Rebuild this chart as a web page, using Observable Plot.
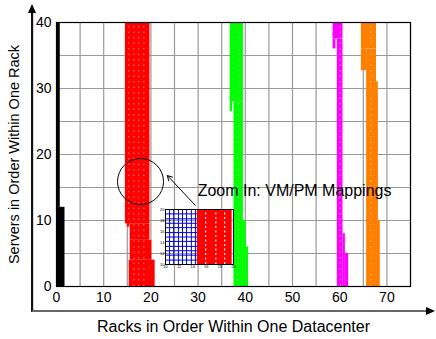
<!DOCTYPE html>
<html>
<head>
<meta charset="utf-8">
<script src="https://cdn.jsdelivr.net/npm/d3@7"></script>
<script src="https://cdn.jsdelivr.net/npm/@observablehq/plot@0.6"></script>
<style>
  html, body { margin: 0; padding: 0; background: #fff; }
  #wrap { position: relative; width: 436px; height: 339px; font-family: "Liberation Sans", Arial, sans-serif; }
  #inset { position: absolute; left: 157px; top: 205px; }
  .deco { position: absolute; pointer-events: none; z-index: 10; box-sizing: border-box; }
</style>
</head>
<body>
<div id="wrap"><div id="main"></div><div id="inset"></div></div>
<script>
// ---- axes / ticks ----
const xTicks = [0, 10, 20, 30, 40, 50, 60, 70];
const yTicks = [0, 10, 20, 30, 40];
const gridX = [5, 10, 15, 20, 25, 30, 35, 40, 45, 50, 55, 60, 65, 70, 75];
const gridY = [5, 10, 15, 20, 25, 30, 35, 40];
const xLabel = "Racks in Order Within One Datacenter";
const yLabel = "Servers in Order Within One Rack";

// ---- VM/PM mapping bands: colour, rack range, server range ----
const bandColor = ["black","black",
  "red","red","red","red","red",
  "#00ff00","#00ff00","#00ff00","#00ff00","#00ff00",
  "magenta","magenta","magenta","magenta","magenta",
  "#ff8000","#ff8000","#ff8000","#ff8000","#ff8000"];
const bandX1 = [0, 0,
  14.6, 15.6, 15.6, 15.4, 15.0,
  36.8, 36.8, 37.6, 39.6, 40.2,
  58.6, 58.6, 59.5, 60.7, 61.2,
  64.6, 64.6, 65.7, 67.8, 67.8];
const bandX2 = [0.8, 1.8,
  19.8, 19.8, 20.2, 20.9, 15.5,
  39.6, 37.3, 39.6, 40.2, 40.7,
  60.7, 59.2, 60.7, 61.2, 61.9,
  67.8, 65.7, 67.8, 68.2, 68.6];
const bandY1 = [12, 0,
  9.5, 7, 4, 0, 9,
  28, 26.5, 0, 0, 0,
  37.5, 36, 0, 0, 0,
  36, 32.7, 0, 10, 0];
const bandY2 = [40, 12,
  40, 9.5, 7, 4, 9.7,
  40, 28, 28, 10, 6,
  40, 37.5, 37.5, 8, 5,
  40, 36, 36, 31, 10];

// white speckle columns inside the bands
const speckX  = [15.3, 16.4, 17.4, 18.5, 38.5, 60.1, 66.6];
const speckY1 = [10, 0, 0, 0, 0, 0, 0];

// ---- annotation ----
const circleX = [17.8], circleY = [15.9];
const noteText = ["Zoom In: VM/PM Mappings"];
const noteX = [29.9], noteY = [14.5];
const arrowFrom = [29.4, 12.3], arrowTo = [23.5, 16.8];

// ---- outer axis frame (in axis units) ----
const frameLeftX = -5.1, frameBottomY = -3.8, frameTopY = 42.8, frameRightX = 80.4;

// ---- inset (zoomed view) ----
const insetTicks = [10, 12, 14, 16, 18, 20];
const insetGridX = [10, 10.6, 11.2, 11.9, 12.5, 13.1, 13.8, 14.4, 15];
const insetGridY = [10, 10.8, 11.7, 12.5, 13.3, 14.2, 15, 15.8, 16.7, 17.5, 18.3, 19.2, 20];
const insetRed = [14.7, 19.8];
const insetSpeck = [15.9, 17.4, 18.7];

const bands = bandColor.map((c, i) => ({c, x1: bandX1[i], x2: bandX2[i], y1: bandY1[i], y2: bandY2[i]}));

const font = "Liberation Sans, Arial, sans-serif";

const main = Plot.plot({
  width: 436, height: 339,
  marginTop: 22, marginBottom: 53, marginLeft: 56, marginRight: 26,
  x: {domain: [0, 75]},
  y: {domain: [0, 40]},
  color: {type: "identity"},
  style: {fontFamily: font, fontSize: "14px", background: "white", overflow: "visible", color: "black"},
  marks: [
    Plot.ruleX(gridX, {stroke: "#999", strokeWidth: 1.2, strokeOpacity: 1}),
    Plot.ruleY(gridY, {stroke: "#999", strokeWidth: 1.2, strokeOpacity: 1}),
    Plot.rect(bands, {x1: "x1", x2: "x2", y1: "y1", y2: "y2", fill: "c", inset: 0}),
    Plot.ruleX(speckX, {y1: (d, i) => speckY1[i], y2: 40, stroke: "white", strokeWidth: 1, strokeOpacity: 0.5, strokeDasharray: "1.5,4"}),
    Plot.frame({stroke: "black", strokeWidth: 1.2}),
    Plot.dot(circleX, {x: d => d, y: (d, i) => circleY[i], r: 23, stroke: "black", fill: "none", strokeWidth: 1}),
    Plot.arrow([0], {x1: () => arrowFrom[0], y1: () => arrowFrom[1], x2: () => arrowTo[0], y2: () => arrowTo[1], stroke: "black", strokeWidth: 1, headLength: 8}),
    Plot.text(noteText, {x: (d, i) => noteX[i], y: (d, i) => noteY[i], text: d => d, textAnchor: "start", fontSize: 16, fill: "black"}),
    Plot.axisX(xTicks, {tickSize: 0, tickPadding: 6, fontSize: 14, label: null}),
    Plot.axisY(yTicks, {tickSize: 0, tickPadding: 5, fontSize: 14, label: null}),
    Plot.text([xLabel], {x: () => 37.5, y: () => frameBottomY, dy: 15, text: d => d, fontSize: 16, fill: "black"}),
    Plot.text([yLabel], {x: () => frameLeftX, y: () => 20, dx: -18, rotate: -90, text: d => d, fontSize: 14.5, fill: "black"}),
    // outer left axis line drawn as a rule through the plot's scales
    Plot.ruleX([frameLeftX], {x: d => d, y1: () => frameBottomY, y2: () => frameTopY - 1, stroke: "#111", strokeWidth: 1.5})
  ]
});
document.getElementById("main").appendChild(main);

// outer decorative axes with arrow tips, positioned through the plot's own scales
const sx = main.scale("x"), sy = main.scale("y");
const fL = sx.apply(frameLeftX), fB = sy.apply(frameBottomY), fT = sy.apply(frameTopY), fR = sx.apply(frameRightX);
const wrap = d3.select("#wrap");
wrap.append("div").attr("class", "deco")
  .style("left", (fL - 1) + "px").style("top", (fT + 6) + "px")
  .style("width", (fR - 6 - fL) + "px").style("height", (fB + 1 - fT - 6) + "px")
  .style("border-left", "2px solid #111").style("border-bottom", "2px solid #666");
wrap.append("div").attr("class", "deco")
  .style("left", (fL - 4) + "px").style("top", fT + "px").style("width", "0").style("height", "0")
  .style("border-left", "4px solid transparent").style("border-right", "4px solid transparent")
  .style("border-bottom", "9px solid black");
wrap.append("div").attr("class", "deco")
  .style("left", (fR - 9) + "px").style("top", (fB - 4) + "px").style("width", "0").style("height", "0")
  .style("border-top", "4px solid transparent").style("border-bottom", "4px solid transparent")
  .style("border-left", "9px solid black");

const inset = Plot.plot({
  width: 80, height: 67,
  marginTop: 4, marginBottom: 8, marginLeft: 8, marginRight: 4,
  x: {domain: [10, 20]},
  y: {domain: [10, 20]},
  style: {fontFamily: font, fontSize: "4px", background: "transparent", overflow: "visible"},
  marks: [
    Plot.ruleX(insetGridX, {y1: 10, y2: 20, stroke: "#0000cc", strokeWidth: 1}),
    Plot.ruleY(insetGridY, {x1: 10, x2: 15, stroke: "#0000cc", strokeWidth: 1}),
    Plot.rect([0], {x1: () => insetRed[0], x2: () => insetRed[1], y1: 10, y2: 20, fill: "red"}),
    Plot.ruleX(insetSpeck, {y1: 10, y2: 20, stroke: "white", strokeWidth: 1.2, strokeDasharray: "2,2.5"}),
    Plot.frame({stroke: "black", strokeWidth: 1}),
    Plot.axisX(insetTicks, {tickSize: 0, tickPadding: 1, fontSize: 4, label: null}),
    Plot.axisY(insetTicks, {tickSize: 0, tickPadding: 1, fontSize: 4, label: null})
  ]
});
document.getElementById("inset").appendChild(inset);
</script>
</body>
</html>
